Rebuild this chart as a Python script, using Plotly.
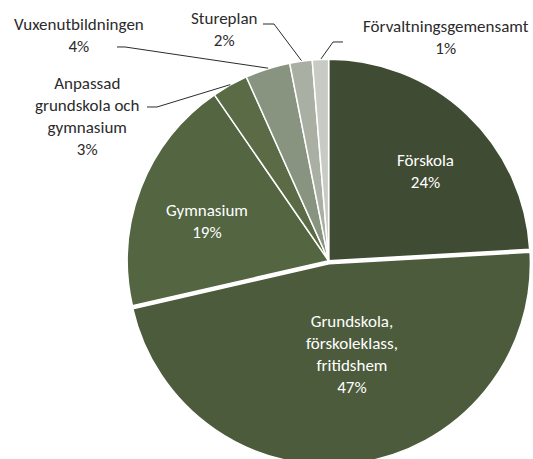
import math
import plotly.graph_objects as go

# slices, clockwise from 12 o'clock
labels = ["Förskola", "Grundskola, förskoleklass, fritidshem", "Gymnasium",
          "Anpassad grundskola och gymnasium", "Vuxenutbildningen", "Stureplan",
          "Förvaltningsgemensamt"]
label_lines = ["Förskola", "Grundskola,<br>förskoleklass,<br>fritidshem", "Gymnasium",
               "Anpassad<br>grundskola och<br>gymnasium", "Vuxenutbildningen", "Stureplan",
               "Förvaltningsgemensamt"]
values = [24.1, 47.3, 19.0, 2.9, 3.6, 1.8, 1.3]
colors = ["#3f4c33", "#4c5b3b", "#536541", "#5a6b45", "#889480", "#a9afa3", "#c8cbc4"]
pull = [0, 0.015, 0, 0, 0, 0, 0]

# the pie runs a little past the bottom of the window, like the original
W, H = 533, 467

# where the pie should sit (centre, radius), in pixels from the top-left
PIE_CX, PIE_CY, PIE_R = 329.3, 260.7, 202.0
half = PIE_R * (1 + max(pull))
dom_x = [max(0, (PIE_CX - half) / W), min(1, (PIE_CX + half) / W)]
dom_y = [max(0, 1 - (PIE_CY + half) / H), min(1, 1 - (PIE_CY - half) / H)]

# label centres, and leader line elbows for the outside ones
label_px = [(425, 171), (352, 354), (207, 221), (87, 116), (79, 35), (224, 29), (446, 38)]
inside = [True, True, True, False, False, False, False]
elbows = [None, None, None,
          [(157, 107), (147, 107)],
          [(125, 47), (117, 47)],
          [(274, 24), (263, 24)],
          [(333, 42), (343, 42)]]

FONT = "Carlito, Lato, 'Open Sans', sans-serif"

fig = go.Figure(go.Pie(
    labels=labels, values=values, sort=False, direction="clockwise", rotation=0,
    marker=dict(colors=colors, line=dict(color="white", width=1.5)),
    pull=pull, textinfo="none", hoverinfo="label+percent",
    domain=dict(x=dom_x, y=dom_y), showlegend=False,
))

def to_paper(x, y):
    return x / W, 1 - y / H

total = sum(values)
start = 0.0
for i, v in enumerate(values):
    pct = round(100 * v / total)
    mid = (start + v / 2) / total * 2 * math.pi
    start += v
    px, py = to_paper(*label_px[i])
    fig.add_annotation(
        x=px, y=py, xref="paper", yref="paper", xanchor="center", yanchor="middle",
        showarrow=False, text=f"{label_lines[i]}<br>{pct}%", align="center",
        font=dict(family=FONT, size=17, color="white" if inside[i] else "#2b2b2b"),
    )
    if elbows[i]:
        ex, ey = PIE_CX + PIE_R * math.sin(mid), PIE_CY - PIE_R * math.cos(mid)
        pts = [(ex, ey)] + elbows[i]
        path = "M " + " L ".join("%.4f,%.4f" % to_paper(a, b) for a, b in pts)
        fig.add_shape(type="path", path=path, xref="paper", yref="paper",
                      line=dict(color="#2b2b2b", width=1))

fig.update_layout(
    width=W, height=H, margin=dict(l=0, r=0, t=0, b=0),
    paper_bgcolor="white", plot_bgcolor="white",
)
# no page margin and no scrollbars, so the figure fills the window from its corner
fig.write_html("out.html", config={"displayModeBar": False}, post_script=(
    "document.body.style.margin='0';"
    "document.body.style.overflow='hidden';"
    "document.documentElement.style.overflow='hidden';"
))
